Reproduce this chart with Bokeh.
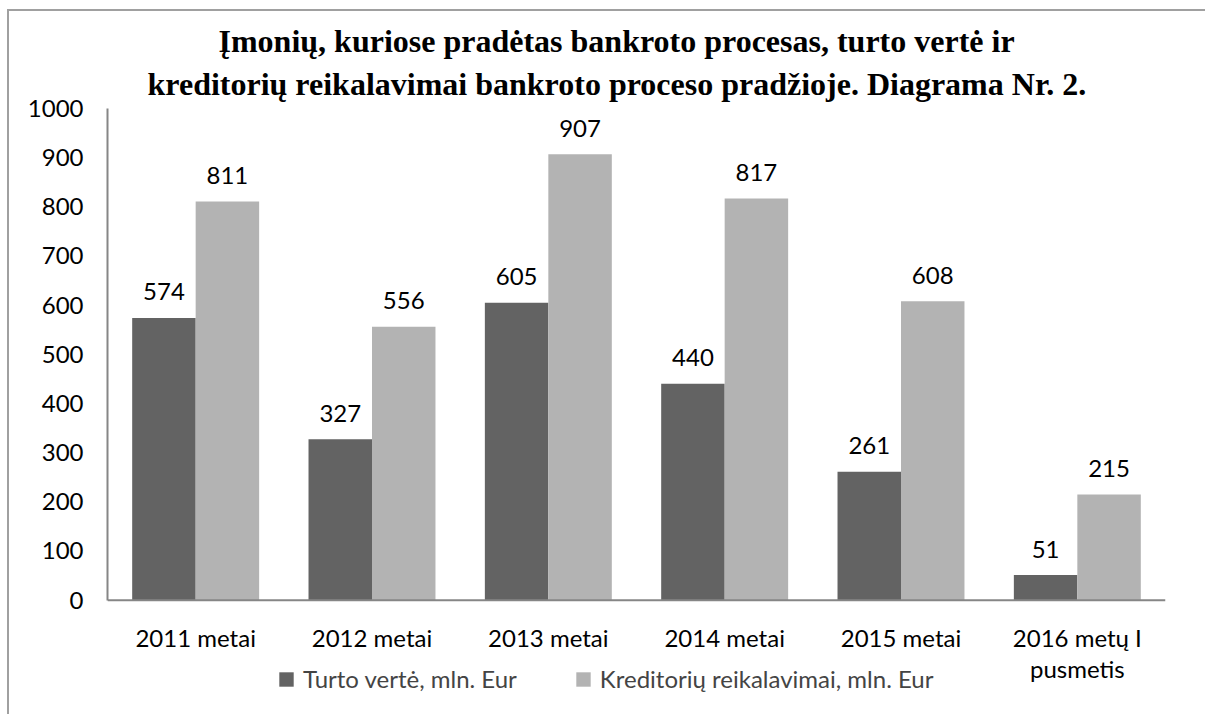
from bokeh.plotting import figure
from bokeh.models import (FactorRange, Range1d, FixedTicker, ColumnDataSource,
                          Legend, LegendItem, Title, Span)
from bokeh.transform import dodge
from bokeh.embed import file_html
from bokeh.resources import INLINE
from bokeh.core.properties import value

categories = ["2011 metai", "2012 metai", "2013 metai", "2014 metai",
              "2015 metai", "2016 metų I\npusmetis"]
turto_verte = [574, 327, 605, 440, 261, 51]
kreditoriu_reikalavimai = [811, 556, 907, 817, 608, 215]
series_names = ["Turto vertė, mln. Eur", "Kreditorių reikalavimai, mln. Eur"]
y_ticks = [0, 100, 200, 300, 400, 500, 600, 700, 800, 900, 1000]
title_lines = ["Įmonių, kuriose pradėtas bankroto procesas, turto vertė ir",
               "kreditorių reikalavimai bankroto proceso pradžioje. Diagrama Nr. 2."]

DARK = "#636363"
LIGHT = "#b3b3b3"
AXIS = "#868686"
FONT = "Lato"
FS = "24px"

# layout (pixels)
W, H = 1198, 705
MB_L, MB_R, MB_T, MB_B = 98, 42, 97, 4
Y_MAX = 1000
PLOT_PX = 490                      # pixels from 0 to Y_MAX
frame_h = (H - 2) - MB_T - MB_B
y_min = -(frame_h - PLOT_PX) * Y_MAX / PLOT_PX

src = ColumnDataSource(dict(
    cat=categories,
    a=turto_verte,
    b=kreditoriu_reikalavimai,
    a_txt=[str(v) for v in turto_verte],
    b_txt=[str(v) for v in kreditoriu_reikalavimai],
    zero=[0] * len(categories),
))

p = figure(width=W, height=H, x_range=FactorRange(*categories),
           y_range=Range1d(y_min, Y_MAX), output_backend="svg", toolbar_location=None,
           min_border_left=MB_L, min_border_right=MB_R, min_border_top=MB_T,
           min_border_bottom=MB_B,
           styles={"border-left": "2px solid #a0a0a0", "border-top": "2px solid #a0a0a0",
                   "margin-left": "7px", "margin-top": "9px"})
p.title = None
p.x_range.range_padding = 0
p.outline_line_color = None
p.xgrid.grid_line_color = None
p.ygrid.grid_line_color = None
p.background_fill_color = "white"
p.border_fill_color = "white"
p.xaxis.visible = False

w = 0.36
r1 = p.vbar(x=dodge("cat", -w / 2, range=p.x_range), top="a", width=w, source=src,
            fill_color=DARK, line_color=None)
r2 = p.vbar(x=dodge("cat", w / 2, range=p.x_range), top="b", width=w, source=src,
            fill_color=LIGHT, line_color=None)

for col, off in (("a_txt", -w / 2), ("b_txt", w / 2)):
    p.text(x=dodge("cat", off, range=p.x_range), y=col[0], text=col, source=src,
           text_align="center", text_baseline="middle", y_offset=-26,
           text_font=value(FONT), text_font_size=FS, text_color="black")

# category axis (line at 0 + labels)
p.add_layout(Span(location=0, dimension="width", line_color=AXIS, line_width=2))
p.text(x="cat", y="zero", text="cat", source=src, text_align="center",
       text_baseline="top", y_offset=23, text_line_height=1.05,
       text_font=value(FONT), text_font_size=FS, text_color="black")

# value axis
p.yaxis.ticker = FixedTicker(ticks=y_ticks)
p.yaxis.bounds = (0, Y_MAX)
p.yaxis.axis_line_color = AXIS
p.yaxis.axis_line_width = 2
p.yaxis.major_tick_line_color = None
p.yaxis.minor_tick_line_color = None
p.yaxis.major_tick_out = 0
p.yaxis.major_tick_in = 0
p.yaxis.major_label_text_font = FONT
p.yaxis.major_label_text_font_size = FS
p.yaxis.major_label_text_color = "black"
p.yaxis.major_label_standoff = 24

# legend (inside the extended frame, below the category labels)
legend = Legend(items=[LegendItem(label=series_names[0], renderers=[r1]),
                       LegendItem(label=series_names[1], renderers=[r2])],
                orientation="horizontal", location=(170, 19),
                padding=0, margin=0, spacing=57, label_standoff=8,
                glyph_width=18, glyph_height=18,
                label_text_font=FONT, label_text_font_size=FS,
                border_line_color=None, background_fill_alpha=0)
p.add_layout(legend, "center")

# title (lines added bottom-up), left-aligned with offsets to centre them
for line, off, so in reversed(list(zip(title_lines, [111, 40], [-5, 14]))):
    p.add_layout(Title(text=line, align="left", offset=off, standoff=so,
                       text_font="Liberation Serif", text_font_style="bold",
                       text_font_size="32px", text_color="black"), "above")

open("out.html", "w").write(file_html(p, INLINE))
